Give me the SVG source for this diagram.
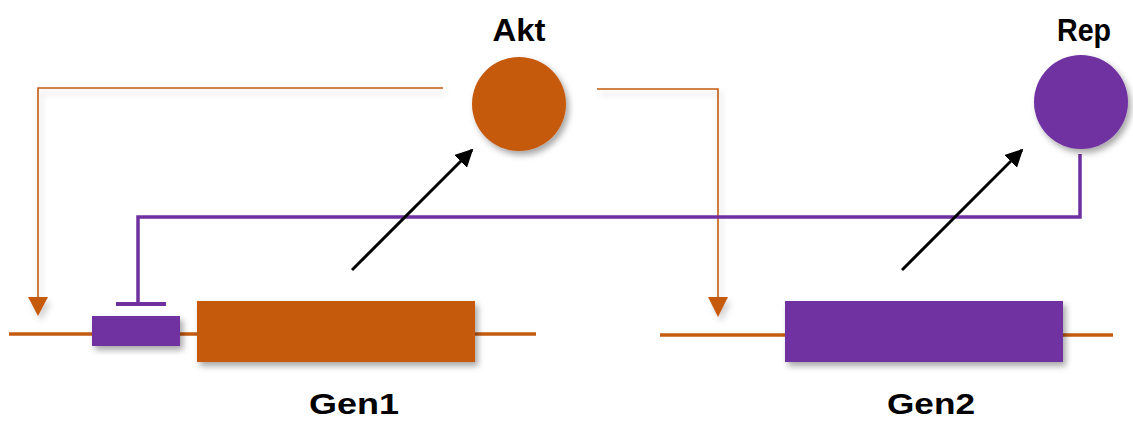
<svg xmlns="http://www.w3.org/2000/svg" width="1133" height="421" viewBox="0 0 1133 421">
<style>
.lbl{font-family:"Liberation Sans",Arial,sans-serif;font-weight:bold;fill:#000;text-anchor:middle}
.fb{fill:none;stroke:#C55A11;stroke-width:1.6}
.dna{fill:none;stroke:#C55A11;stroke-width:3.5}
.rep{fill:none;stroke:#7030A0;stroke-width:3.5}
.act{fill:none;stroke:#000;stroke-width:3}
</style>
<defs>
<filter id="sh" x="-30%" y="-30%" width="160%" height="160%">
<feDropShadow dx="3" dy="4" stdDeviation="3" flood-color="#000" flood-opacity="0.35"/>
</filter>
<filter id="shl" x="-10%" y="-10%" width="120%" height="120%">
<feDropShadow dx="3" dy="5" stdDeviation="3" flood-color="#000" flood-opacity="0.18"/>
</filter>
<marker id="ah" viewBox="0 0 10 10" refX="9" refY="5" markerWidth="6" markerHeight="6" orient="auto" markerUnits="strokeWidth">
<path d="M0,0 L10,5 L0,10 z" fill="#000"/>
</marker>
</defs>
<rect width="1133" height="421" fill="#fff"/>
<g id="connectors">
<g filter="url(#shl)">
<polyline class="fb" points="443,88 38,88 38,300"/>
<polygon points="28,297 48,297 38,316" fill="#C55A11"/>
<polyline class="fb" points="597,89 718,89 718,300"/>
<polygon points="708,297 728,297 718,317" fill="#C55A11"/>
</g>
<polyline class="rep" points="1080,154 1080,217 138,217 138,304"/>
<line x1="116" y1="304" x2="166" y2="304" stroke="#7030A0" stroke-width="4"/>
<line class="act" x1="352" y1="270" x2="472" y2="150" marker-end="url(#ah)"/>
<line class="act" x1="902" y1="270" x2="1022" y2="150" marker-end="url(#ah)"/>
</g>
<g id="gen1">
<line class="dna" x1="9" y1="334" x2="536" y2="334"/>
<rect x="92" y="316" width="88" height="30" fill="#7030A0" filter="url(#sh)"/>
<rect x="197" y="301" width="278" height="61" fill="#C55A11" filter="url(#sh)"/>
<text class="lbl" x="354" y="414" font-size="30" textLength="90" lengthAdjust="spacingAndGlyphs">Gen1</text>
</g>
<g id="gen2">
<line class="dna" x1="660" y1="335" x2="1113" y2="335"/>
<rect x="785" y="301" width="278" height="61" fill="#7030A0" filter="url(#sh)"/>
<text class="lbl" x="931" y="414" font-size="30" textLength="88" lengthAdjust="spacingAndGlyphs">Gen2</text>
</g>
<g id="akt">
<circle cx="519" cy="104" r="47" fill="#C55A11" filter="url(#sh)"/>
<text class="lbl" x="519" y="41" font-size="31" textLength="53" lengthAdjust="spacingAndGlyphs">Akt</text>
</g>
<g id="rep">
<circle cx="1081" cy="102" r="47" fill="#7030A0" filter="url(#sh)"/>
<text class="lbl" x="1084" y="41" font-size="32" textLength="54" lengthAdjust="spacingAndGlyphs">Rep</text>
</g>
</svg>
